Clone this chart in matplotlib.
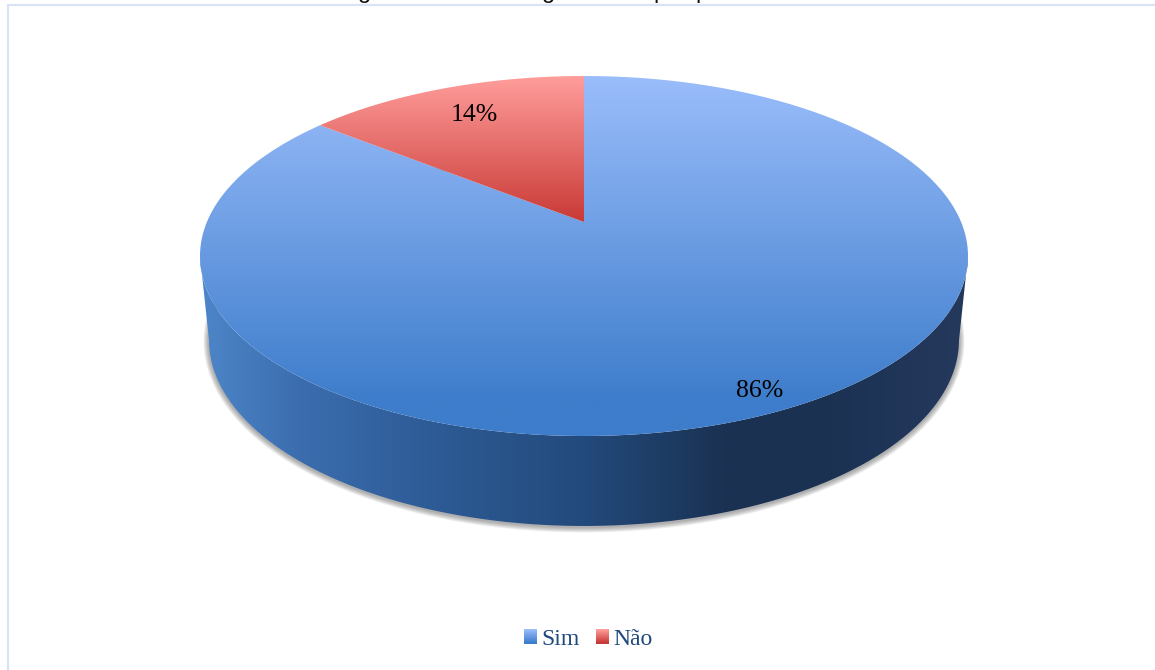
import numpy as np
import matplotlib
matplotlib.use("Agg")
import matplotlib.pyplot as plt
from matplotlib.colors import LinearSegmentedColormap, to_rgb
from matplotlib.legend_handler import HandlerBase
from matplotlib.patches import Ellipse, PathPatch, Patch, Rectangle
from matplotlib.path import Path

categories = ["Sim", "Não"]
values = [85.7, 14.3]
title_glyphs = ["g", "g", "p", "p"]

W, H = 1155, 670
CX, CY_TOP, RX_TOP, RY_TOP = 584, 256, 384, 180
CY_BOT, RX_BOT, RY_BOT = 340, 375, 186
APEX_Y = 222
BLUE = ["#9abdfb", "#3e7dcb"]
RED = ["#ff9d9b", "#c93a36"]
SIDE = [(0.0, "#4d86c9"), (0.13, "#3b6dae"), (0.26, "#305f9b"), (0.5, "#234a7c"),
        (0.68, "#1a3253"), (0.8, "#1a3152"), (1.0, "#25395d")]
FRAME = "#d8e4f6"
TEXT_BLUE = "#1f497d"

fig = plt.figure(figsize=(W / 100, H / 100), dpi=100, facecolor="white")
ax = fig.add_axes([0, 0, 1, 1])
ax.set_xlim(0, W)
ax.set_ylim(H, 0)
ax.axis("off")

# perspective projection of the unit disc onto the tilted pie top
c = 68 / 360
a = 76 * c - 146
s = RX_TOP * np.sqrt(1 - c ** 2)


def project(x, y):
    w = 1 + c * y
    return CX + s * x / w, (a * y + APEX_Y) / w


def wedge_path(start, stop):
    """Wedge between two fractions, clockwise from 12 o'clock."""
    t = np.linspace(start, stop, 240) * 2 * np.pi
    px, py = project(np.sin(t), np.cos(t))
    pts = np.column_stack([np.r_[CX, px, CX], np.r_[APEX_Y, py, APEX_Y]])
    return Path(pts)


def gradient(colors, extent, horizontal=False, clip=None, zorder=2):
    cmap = LinearSegmentedColormap.from_list("g", colors)
    ramp = np.linspace(0, 1, 512)
    data = ramp[None, :] if horizontal else ramp[:, None]
    im = ax.imshow(data, cmap=cmap, extent=extent, aspect="auto",
                   origin="upper", zorder=zorder, interpolation="bilinear")
    if clip is not None:
        patch = PathPatch(clip, transform=ax.transData, fc="none", ec="none")
        ax.add_patch(patch)
        im.set_clip_path(patch)
    return im


# frame
ax.plot([8, 8, W], [H, 4.7, 4.7], color=FRAME, lw=1.6, zorder=1, solid_joinstyle="miter")

# soft shadow beneath the wall
for i in range(8):
    ax.add_patch(Ellipse((CX, CY_BOT + 1), 2 * RX_BOT, 2 * RY_BOT, fc="none",
                         ec="#555555", alpha=0.075, lw=1 + i * 1.0, zorder=1.5))

# wall of the pie
t = np.linspace(np.pi, 0, 400)
lower_x = CX + RX_BOT * np.cos(t)
lower_y = CY_BOT + RY_BOT * np.sin(t)
u = np.linspace(0, np.pi, 400)
top_x = CX + RX_TOP * np.cos(u)
top_y = CY_TOP + RY_TOP * np.sin(u)
wall = Path(np.column_stack([np.r_[lower_x, top_x], np.r_[lower_y, top_y]]))
gradient(SIDE, (CX - RX_TOP, CX + RX_TOP, 530, 250), horizontal=True, clip=wall, zorder=2)

# top slices, from the values
fractions = np.cumsum([0] + values) / sum(values)
gradient([(0, BLUE[0]), (0.9, BLUE[1]), (1, BLUE[1])], (0, W, 436, 76),
         clip=wedge_path(fractions[0], fractions[1]), zorder=3)
gradient(RED, (0, W, APEX_Y, 76), clip=wedge_path(fractions[1], fractions[2]), zorder=4)

# data labels
label_pos = [(760, 391), (474, 115)]
for v, (x, y) in zip(values, label_pos):
    ax.text(x, y, f"{v:.0f}%", ha="center", va="center", fontsize=18.5,
            family="Liberation Serif", color="black", zorder=6)

# what remains visible of the cropped title
for g, x in zip(title_glyphs, [365, 549, 660, 702]):
    ax.text(x, -2, g, ha="center", va="baseline", fontsize=17,
            family="Liberation Sans", color="#111111", zorder=6, clip_on=True)


class GradientHandler(HandlerBase):
    def __init__(self, colors):
        super().__init__()
        self.colors = colors

    def create_artists(self, legend, orig, xd, yd, width, height, fontsize, trans):
        c0, c1 = np.array(to_rgb(self.colors[0])), np.array(to_rgb(self.colors[1]))
        n = 14
        out = []
        for i in range(n):
            f = i / (n - 1)
            out.append(Rectangle((-xd, -yd + height * (1 - (i + 1) / n)), width, height / n + 0.3,
                                 fc=c0 + (c1 - c0) * f, ec="none", transform=trans))
        return out


handles = [Patch(label=categories[0]), Patch(label=categories[1])]
leg = ax.legend(handles=handles, loc="center", bbox_to_anchor=(588.5 / W, 1 - 639.5 / H),
                ncol=2, frameon=False, prop={"family": "Liberation Serif", "size": 17},
                handlelength=0.55, handleheight=0.55, handletextpad=0.2, columnspacing=0.68,
                borderpad=0, labelcolor=TEXT_BLUE,
                handler_map={handles[0]: GradientHandler(BLUE), handles[1]: GradientHandler(RED)})
leg.set_zorder(6)

fig.savefig("out.png", dpi=100, facecolor="white")
